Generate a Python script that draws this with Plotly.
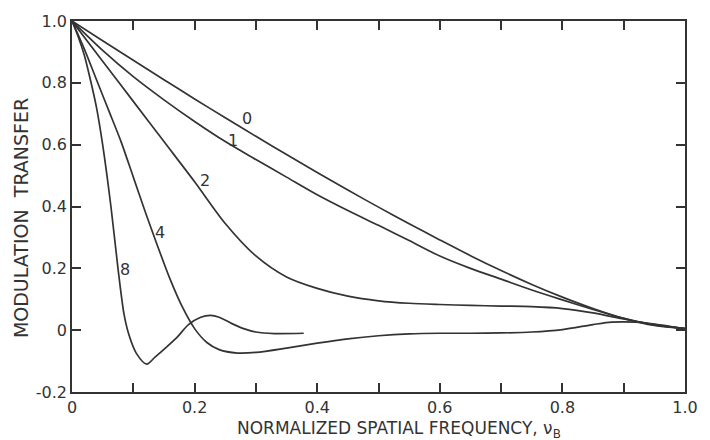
import plotly.graph_objects as go

# Normalized spatial frequency samples and modulation transfer for each curve
x_common = [0.0, 0.05, 0.10, 0.15, 0.20, 0.25, 0.30, 0.35, 0.40, 0.45, 0.50,
            0.55, 0.60, 0.65, 0.70, 0.75, 0.80, 0.85, 0.90, 0.95, 1.0]
mtf_0 = [1.0, 0.936, 0.873, 0.810, 0.748, 0.687, 0.627, 0.568, 0.510, 0.453, 0.398,
         0.344, 0.292, 0.241, 0.193, 0.148, 0.107, 0.070, 0.038, 0.015, 0.005]
mtf_1 = [1.0, 0.905, 0.820, 0.745, 0.675, 0.610, 0.552, 0.495, 0.438, 0.387, 0.339,
         0.290, 0.240, 0.200, 0.165, 0.130, 0.098, 0.067, 0.038, 0.017, 0.005]
mtf_2 = [1.0, 0.870, 0.740, 0.610, 0.480, 0.345, 0.240, 0.172, 0.135, 0.110, 0.095,
         0.087, 0.083, 0.080, 0.078, 0.076, 0.070, 0.056, 0.036, 0.018, 0.005]

x_4 = [0.0, 0.02, 0.04, 0.06, 0.08, 0.10, 0.12, 0.14, 0.16, 0.18, 0.20, 0.22, 0.24,
       0.27, 0.30, 0.35, 0.40, 0.45, 0.50, 0.55, 0.60, 0.65, 0.70, 0.75, 0.80,
       0.85, 0.88, 0.92, 0.95, 1.0]
mtf_4 = [1.0, 0.910, 0.810, 0.710, 0.610, 0.495, 0.380, 0.270, 0.165, 0.075, 0.005,
         -0.040, -0.063, -0.074, -0.072, -0.058, -0.042, -0.028, -0.018, -0.012,
         -0.010, -0.010, -0.009, -0.006, 0.002, 0.018, 0.026, 0.026, 0.020, 0.005]

x_8 = [0.0, 0.01, 0.02, 0.03, 0.04, 0.050, 0.0635, 0.075, 0.085, 0.093, 0.105, 0.122,
       0.135, 0.15, 0.17, 0.19, 0.21, 0.226, 0.24, 0.26, 0.28, 0.30, 0.33, 0.378]
mtf_8 = [1.0, 0.95, 0.89, 0.81, 0.72, 0.60, 0.40, 0.20, 0.05, -0.016, -0.075, -0.11,
         -0.088, -0.062, -0.026, 0.018, 0.042, 0.048, 0.042, 0.022, 0.005, -0.006,
         -0.011, -0.010]

curve_labels = ["0", "1", "2", "4", "8"]
label_x = [0.285, 0.262, 0.217, 0.143, 0.086]
label_y = [0.685, 0.615, 0.485, 0.315, 0.195]

x_tickvals = [0.0, 0.2, 0.4, 0.6, 0.8, 1.0]
x_ticktext = ["0", "0.2", "0.4", "0.6", "0.8", "1.0"]
y_tickvals = [-0.2, 0.0, 0.2, 0.4, 0.6, 0.8, 1.0]
y_ticktext = ["-0.2", "0", "0.2", "0.4", "0.6", "0.8", "1.0"]

INK = "#333333"
FONT = "DejaVu Sans"

fig = go.Figure()
series = [(x_common, mtf_0), (x_common, mtf_1), (x_common, mtf_2), (x_4, mtf_4), (x_8, mtf_8)]
for (xs, ys), name in zip(series, curve_labels):
    fig.add_trace(go.Scatter(x=xs, y=ys, mode="lines", name=name,
                             line=dict(color=INK, width=1.7, shape="spline", smoothing=0.8),
                             showlegend=False, hoverinfo="skip"))

for t, lx, ly in zip(curve_labels, label_x, label_y):
    fig.add_annotation(x=lx, y=ly, text=t, showarrow=False,
                       font=dict(family=FONT, size=16, color=INK))

axis_common = dict(showgrid=False, zeroline=False, showline=True, linecolor=INK,
                   linewidth=1.6, mirror="allticks", ticks="inside", ticklen=9,
                   tickwidth=1.5, tickcolor=INK,
                   tickfont=dict(family=FONT, size=16, color=INK))

fig.update_xaxes(range=[0, 1.0], tickvals=x_tickvals, ticktext=x_ticktext,
                 minor=dict(ticks="inside", ticklen=9, tickwidth=1.5, tickcolor=INK,
                            tick0=0, dtick=0.1, showgrid=False),
                 **axis_common)
fig.update_yaxes(range=[-0.2, 1.0], tickvals=y_tickvals, ticktext=y_ticktext, **axis_common)

fig.add_annotation(xref="paper", yref="paper", x=0.534, y=-0.1, yanchor="middle",
                   text="NORMALIZED SPATIAL FREQUENCY, ν<sub>B</sub>", showarrow=False,
                   font=dict(family=FONT, size=17, color=INK))
fig.add_annotation(xref="paper", yref="paper", x=-0.082, y=0.468, xanchor="center",
                   yanchor="middle", textangle=-90,
                   text="MODULATION  TRANSFER", showarrow=False,
                   font=dict(family=FONT, size=19, color=INK))

fig.update_layout(width=710, height=440, margin=dict(l=72, r=13, t=18, b=48),
                  plot_bgcolor="white", paper_bgcolor="white")

fig.write_html("out.html")
